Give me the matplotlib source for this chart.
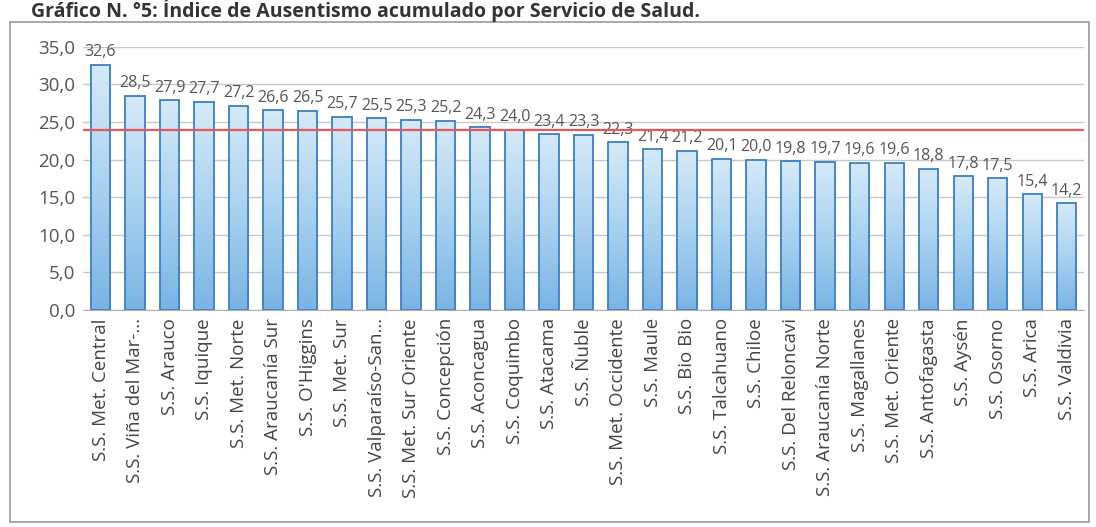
import numpy as np
import matplotlib
matplotlib.use("Agg")
import matplotlib.pyplot as plt
from matplotlib.patches import Rectangle

# ------------------------------
# DATA
# ------------------------------

servicios = [
    "S.S. Met. Central", "S.S. Viña del Mar-...", "S.S. Arauco", "S.S. Iquique",
    "S.S. Met. Norte", "S.S. Araucanía Sur", "S.S. O'Higgins", "S.S. Met. Sur",
    "S.S. Valparaíso-San...", "S.S. Met. Sur Oriente", "S.S. Concepción",
    "S.S. Aconcagua", "S.S. Coquimbo", "S.S. Atacama", "S.S. Ñuble",
    "S.S. Met. Occidente", "S.S. Maule", "S.S. Bio Bio", "S.S. Talcahuano",
    "S.S. Chiloe", "S.S. Del Reloncavi", "S.S. Araucanía Norte", "S.S. Magallanes",
    "S.S. Met. Oriente", "S.S. Antofagasta", "S.S. Aysén", "S.S. Osorno",
    "S.S. Arica", "S.S. Valdivia",
]
indice = [
    32.6, 28.5, 27.9, 27.7, 27.2, 26.6, 26.5, 25.7, 25.5, 25.3, 25.2, 24.3,
    24.0, 23.4, 23.3, 22.3, 21.4, 21.2, 20.1, 20.0, 19.8, 19.7, 19.6, 19.6,
    18.8, 17.8, 17.5, 15.4, 14.2,
]
referencia = 24.0
y_ticks = [0, 5, 10, 15, 20, 25, 30, 35]

TITLE = "Gráfico N. °5: Índice de Ausentismo acumulado por Servicio de Salud."

# ------------------------------
# PLOT
# ------------------------------

plt.rcParams["font.family"] = ["Open Sans", "DejaVu Sans"]

fig = plt.figure(figsize=(10.96, 5.27), dpi=100)
ax = fig.add_axes([0.076, 0.412, 0.913, 0.499])

x = np.arange(len(servicios))
bars = ax.bar(x, indice, width=0.56, color="#9dc8ea", edgecolor="#3c7fc4",
              linewidth=1.3, zorder=3)

# vertical gradient inside each bar (darker bottom, light top)
grad = np.linspace(0, 1, 256).reshape(-1, 1)
cmap = matplotlib.colors.LinearSegmentedColormap.from_list(
    "barfill", ["#7ab4e4", "#a9d2f0", "#d6eaf8"])
for b in bars:
    x0, w, h = b.get_x(), b.get_width(), b.get_height()
    im = ax.imshow(grad, cmap=cmap, aspect="auto", origin="lower",
                   extent=(x0, x0 + w, 0, h), zorder=3.5)
    im.set_clip_path(b)
    b.set_facecolor("none")
    b.set_zorder(4)

for xi, v in zip(x, indice):
    ax.text(xi, v + 0.6, f"{v:.1f}".replace(".", ","), ha="center", va="bottom",
            fontsize=11.5, color="#555555")

ax.axhline(referencia, color="#e8585a", linewidth=1.6, zorder=5)

ax.set_xlim(-0.5, len(servicios) - 0.5)
ax.set_ylim(0, 35)
ax.set_yticks(y_ticks)
ax.set_yticklabels([f"{t:.1f}".replace(".", ",") for t in y_ticks],
                   fontsize=13.5, color="#555555")
ax.set_xticks(x)
ax.set_xticklabels(servicios, rotation=90, fontsize=13.5, color="#444444")
ax.tick_params(axis="both", length=0, pad=6)
ax.yaxis.grid(True, color="#c8c8c8", linewidth=1, zorder=0)
for s in ["top", "right", "left"]:
    ax.spines[s].set_visible(False)
ax.spines["bottom"].set_color("#b0b0b0")

# outer chart border
fig.patches.append(Rectangle((0.009, 0.01), 0.985, 0.948, transform=fig.transFigure,
                             fill=False, edgecolor="#9a9a9a", linewidth=1.2))

fig.text(0.028, 1 - 17 / 527, TITLE, fontsize=14, fontweight="bold",
         color="#333333", va="baseline", ha="left")

fig.savefig("out.png", dpi=100, facecolor="white")
